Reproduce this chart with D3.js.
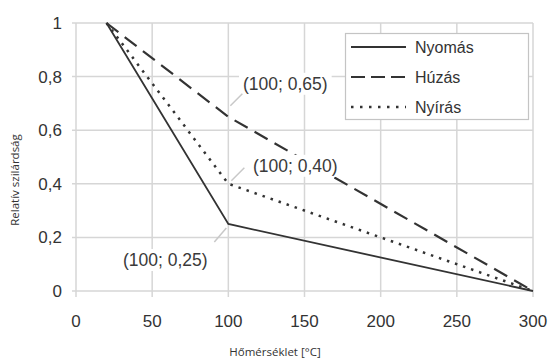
<!DOCTYPE html>
<html>
<head>
<meta charset="utf-8">
<script src="https://cdn.jsdelivr.net/npm/d3@7"></script>
<style>
  body { margin: 0; background: #fff; }
  svg { display: block; }
</style>
</head>
<body>
<div id="chart"></div>
<script>
// chart data
var temps = [20, 100, 300];
var nyomas = [1, 0.25, 0];
var huzas = [1, 0.65, 0];
var nyiras = [1, 0.40, 0];
var seriesNames = ["Nyomás", "Húzás", "Nyírás"];
var xTicks = [0, 50, 100, 150, 200, 250, 300];
var yTicks = [0, 0.2, 0.4, 0.6, 0.8, 1];
var notes = [
  { x: 100, y: 0.65, label: "(100; 0,65)" },
  { x: 100, y: 0.40, label: "(100; 0,40)" },
  { x: 100, y: 0.25, label: "(100; 0,25)" }
];

var width = 550, height = 358;
var margin = { top: 23, right: 17, bottom: 67, left: 76 };

var svg = d3.select("#chart").append("svg")
  .attr("width", width)
  .attr("height", height);

var x = d3.scaleLinear().domain([0, 300]).range([margin.left, width - margin.right]);
var y = d3.scaleLinear().domain([0, 1]).range([height - margin.bottom, margin.top]);

var fmt = function (d) { return String(d).replace(".", ","); };
var grid = "#d6d6d6";

// grid lines (with short tick stubs outside the plot)
svg.append("g").selectAll("line")
  .data(xTicks).enter().append("line")
  .attr("x1", function (d) { return x(d); })
  .attr("x2", function (d) { return x(d); })
  .attr("y1", y(1))
  .attr("y2", y(0) + 6)
  .attr("stroke", grid)
  .attr("stroke-width", 1.5);

svg.append("g").selectAll("line")
  .data(yTicks).enter().append("line")
  .attr("x1", x(0) - 4)
  .attr("x2", x(300))
  .attr("y1", function (d) { return y(d); })
  .attr("y2", function (d) { return y(d); })
  .attr("stroke", grid)
  .attr("stroke-width", 1.5);

// tick labels
svg.append("g").selectAll("text")
  .data(xTicks).enter().append("text")
  .attr("x", function (d) { return x(d); })
  .attr("y", 327)
  .attr("text-anchor", "middle")
  .style("font-family", "Liberation Sans, Arial, sans-serif")
  .style("font-size", "17px")
  .attr("fill", "#333")
  .text(function (d) { return d; });

svg.append("g").selectAll("text")
  .data(yTicks).enter().append("text")
  .attr("x", 62)
  .attr("y", function (d) { return y(d) + 6; })
  .attr("text-anchor", "end")
  .style("font-family", "Liberation Sans, Arial, sans-serif")
  .style("font-size", "17px")
  .attr("fill", "#333")
  .text(fmt);

// axis titles
svg.append("text")
  .attr("x", 275)
  .attr("y", 356)
  .attr("text-anchor", "middle")
  .style("font-family", "Open Sans, sans-serif")
  .style("font-size", "11.5px")
  .attr("fill", "#333")
  .text("Hőmérséklet [°C]");

svg.append("text")
  .attr("transform", "translate(19,180)rotate(-90)")
  .attr("text-anchor", "middle")
  .style("font-family", "Open Sans, sans-serif")
  .style("font-size", "11.5px")
  .attr("fill", "#333")
  .text("Relatív szilárdság");

// series lines
var styles = [
  { dash: null, w: 1.8 },
  { dash: "15,8", w: 2.2 },
  { dash: "2.5,6", w: 2.5 }
];
var allSeries = [nyomas, huzas, nyiras];

var line = d3.line()
  .x(function (d) { return x(d[0]); })
  .y(function (d) { return y(d[1]); });

allSeries.forEach(function (vals, i) {
  svg.append("path")
    .datum(d3.zip(temps, vals))
    .attr("d", line)
    .attr("fill", "none")
    .attr("stroke", "#333")
    .attr("stroke-width", styles[i].w)
    .attr("stroke-dasharray", styles[i].dash);
});

// annotation boxes, leaders and labels (drawn over the lines)
var noteLayout = [
  { dx: 57, dy: -33, l1: [2, -11], l2: [14, -23] },
  { dx: 67, dy: -18, l1: [3, -3], l2: [16, -16] },
  { dx: -63, dy: 36, l1: [-2, 4], l2: [-14, 18] }
];

var noteG = svg.append("g");
notes.forEach(function (n, i) {
  var lay = noteLayout[i];
  var cx = x(n.x) + lay.dx, cy = y(n.y) + lay.dy;
  var t = noteG.append("text")
    .attr("x", cx)
    .attr("y", cy + 6)
    .attr("text-anchor", "middle")
    .style("font-family", "Liberation Sans, Arial, sans-serif")
    .style("font-size", "17.5px")
    .attr("fill", "#3a3a3a")
    .text(n.label);
  var bb = t.node().getBBox();
  noteG.insert("rect", "text")
    .attr("x", bb.x - 4)
    .attr("y", bb.y - 1)
    .attr("width", bb.width + 8)
    .attr("height", bb.height + 2)
    .attr("fill", "#fff");
  noteG.append("line")
    .attr("x1", x(n.x) + lay.l1[0])
    .attr("y1", y(n.y) + lay.l1[1])
    .attr("x2", x(n.x) + lay.l2[0])
    .attr("y2", y(n.y) + lay.l2[1])
    .attr("stroke", "#c8c8c8")
    .attr("stroke-width", 1.5);
});

// legend
var lg = svg.append("g");
lg.append("rect")
  .attr("x", 345.5)
  .attr("y", 33.5)
  .attr("width", 183)
  .attr("height", 86)
  .attr("fill", "#fff")
  .attr("stroke", "#c4c4c4")
  .attr("stroke-width", 1.2);

var legendDash = [null, "14,6", "2.5,6.5"];
seriesNames.forEach(function (name, i) {
  var ly = 47 + i * 30;
  lg.append("line")
    .attr("x1", 351)
    .attr("x2", 406)
    .attr("y1", ly)
    .attr("y2", ly)
    .attr("stroke", "#333")
    .attr("stroke-width", styles[i].w)
    .attr("stroke-dasharray", legendDash[i]);
  lg.append("text")
    .attr("x", 415)
    .attr("y", ly + 6)
    .style("font-family", "Liberation Sans, Arial, sans-serif")
    .style("font-size", "16px")
    .attr("fill", "#333")
    .text(name);
});
</script>
</body>
</html>
